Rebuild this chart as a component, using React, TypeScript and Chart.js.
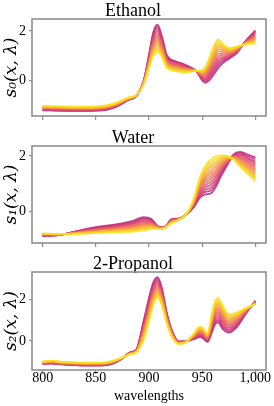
import { useEffect, useRef } from "react";
import { Chart, registerables } from "chart.js";

Chart.register(...registerables);

// ---------- data ----------
const xTicks = [800, 850, 900, 950, 1000];
const xRange = [790, 1010];
const yTicks = [0, 2];
const xTitle = "wavelengths";

const titles = ["Ethanol", "Water", "2-Propanol"];
const yLabels = ["s₀(x, λ)", "s₁(x, λ)", "s₂(x, λ)"];
const yRangeEthanol = [-1.43, 2.48];
const yRangeWater = [-1.13, 2.36];
const yRangePropanol = [-1.41, 3.35];

// Ethanol (magenta -> yellow)
const ethanolWl = [800, 820, 840, 860, 870, 880, 888, 895, 900, 904, 908, 912, 917, 925, 935, 945, 950, 953, 957, 961, 965, 970, 976, 983, 990, 1000];
const ethanol0 = [-1.20, -1.22, -1.22, -1.18, -1.05, -0.80, -0.62, 0.00, 1.05, 1.95, 2.25, 1.80, 1.00, 0.78, 0.62, 0.35, 0.00, -0.10, 0.02, 0.25, 0.50, 0.72, 0.90, 1.12, 1.55, 2.02];
const ethanol1 = [-1.19, -1.21, -1.21, -1.17, -1.04, -0.79, -0.62, -0.02, 1.01, 1.88, 2.17, 1.74, 0.97, 0.75, 0.60, 0.36, 0.04, -0.04, 0.11, 0.36, 0.60, 0.79, 0.94, 1.15, 1.55, 1.98];
const ethanol2 = [-1.17, -1.19, -1.20, -1.15, -1.02, -0.78, -0.61, -0.03, 0.97, 1.80, 2.08, 1.67, 0.93, 0.72, 0.58, 0.36, 0.08, 0.02, 0.20, 0.46, 0.70, 0.85, 0.97, 1.17, 1.54, 1.94];
const ethanol3 = [-1.16, -1.18, -1.18, -1.14, -1.01, -0.78, -0.61, -0.04, 0.92, 1.72, 1.98, 1.60, 0.88, 0.69, 0.55, 0.37, 0.11, 0.07, 0.27, 0.55, 0.79, 0.91, 1.00, 1.19, 1.53, 1.90];
const ethanol4 = [-1.14, -1.16, -1.16, -1.12, -0.99, -0.77, -0.61, -0.05, 0.87, 1.63, 1.88, 1.52, 0.83, 0.65, 0.52, 0.37, 0.14, 0.12, 0.33, 0.63, 0.88, 0.96, 1.03, 1.21, 1.52, 1.85];
const ethanol5 = [-1.13, -1.15, -1.15, -1.11, -0.98, -0.76, -0.61, -0.07, 0.83, 1.56, 1.79, 1.45, 0.79, 0.62, 0.50, 0.38, 0.18, 0.18, 0.41, 0.73, 0.98, 1.03, 1.07, 1.23, 1.51, 1.81];
const ethanol6 = [-1.11, -1.13, -1.14, -1.09, -0.97, -0.75, -0.60, -0.08, 0.78, 1.48, 1.70, 1.38, 0.75, 0.58, 0.48, 0.38, 0.21, 0.23, 0.49, 0.83, 1.08, 1.09, 1.10, 1.25, 1.50, 1.76];
const ethanol7 = [-1.10, -1.12, -1.13, -1.08, -0.96, -0.74, -0.60, -0.09, 0.73, 1.40, 1.61, 1.31, 0.71, 0.55, 0.46, 0.38, 0.25, 0.28, 0.57, 0.93, 1.18, 1.15, 1.14, 1.27, 1.49, 1.72];
const ethanol8 = [-1.08, -1.10, -1.11, -1.06, -0.94, -0.73, -0.59, -0.10, 0.68, 1.32, 1.52, 1.23, 0.67, 0.51, 0.43, 0.38, 0.28, 0.33, 0.64, 1.02, 1.27, 1.21, 1.17, 1.29, 1.48, 1.67];
const ethanol9 = [-1.07, -1.09, -1.10, -1.05, -0.93, -0.73, -0.59, -0.12, 0.64, 1.24, 1.43, 1.16, 0.63, 0.48, 0.41, 0.39, 0.32, 0.39, 0.72, 1.12, 1.37, 1.27, 1.20, 1.32, 1.48, 1.63];
const ethanol10 = [-1.05, -1.07, -1.08, -1.03, -0.91, -0.72, -0.59, -0.13, 0.59, 1.16, 1.33, 1.09, 0.58, 0.45, 0.38, 0.39, 0.35, 0.44, 0.80, 1.21, 1.46, 1.33, 1.23, 1.34, 1.47, 1.59];
const ethanol11 = [-1.04, -1.06, -1.07, -1.02, -0.90, -0.71, -0.59, -0.14, 0.55, 1.08, 1.24, 1.02, 0.54, 0.42, 0.36, 0.40, 0.39, 0.50, 0.88, 1.31, 1.56, 1.39, 1.27, 1.36, 1.46, 1.55];
const ethanol12 = [-1.02, -1.04, -1.05, -1.00, -0.88, -0.70, -0.58, -0.15, 0.50, 1.00, 1.15, 0.95, 0.50, 0.38, 0.33, 0.40, 0.42, 0.55, 0.95, 1.40, 1.65, 1.45, 1.30, 1.38, 1.45, 1.50];

// Water
const waterWl = [800, 815, 830, 850, 870, 885, 895, 902, 910, 915, 921, 928, 935, 942, 948, 953, 958, 963, 968, 974, 980, 986, 993, 1000];
const water0 = [-0.88, -0.85, -0.72, -0.56, -0.45, -0.33, -0.20, -0.26, -0.55, -0.55, -0.27, -0.25, -0.10, 0.15, 0.50, 0.62, 0.65, 0.90, 1.30, 1.70, 2.08, 2.15, 2.05, 1.95];
const water1 = [-0.87, -0.85, -0.73, -0.58, -0.48, -0.37, -0.24, -0.29, -0.56, -0.56, -0.29, -0.26, -0.10, 0.18, 0.57, 0.71, 0.76, 0.99, 1.36, 1.73, 2.06, 2.11, 1.99, 1.88];
const water2 = [-0.86, -0.84, -0.73, -0.60, -0.50, -0.40, -0.28, -0.32, -0.56, -0.56, -0.30, -0.26, -0.10, 0.20, 0.63, 0.79, 0.86, 1.08, 1.42, 1.75, 2.04, 2.06, 1.93, 1.81];
const water3 = [-0.86, -0.84, -0.74, -0.62, -0.53, -0.43, -0.32, -0.35, -0.57, -0.56, -0.31, -0.27, -0.10, 0.23, 0.69, 0.88, 0.96, 1.17, 1.48, 1.78, 2.02, 2.02, 1.88, 1.74];
const water4 = [-0.85, -0.83, -0.75, -0.63, -0.55, -0.46, -0.36, -0.38, -0.57, -0.56, -0.32, -0.27, -0.09, 0.25, 0.75, 0.96, 1.06, 1.26, 1.54, 1.80, 2.00, 1.97, 1.82, 1.67];
const water5 = [-0.84, -0.83, -0.76, -0.65, -0.58, -0.50, -0.40, -0.41, -0.58, -0.57, -0.34, -0.28, -0.10, 0.28, 0.82, 1.05, 1.17, 1.35, 1.60, 1.83, 1.99, 1.93, 1.76, 1.60];
const water6 = [-0.83, -0.83, -0.76, -0.67, -0.60, -0.53, -0.44, -0.44, -0.59, -0.57, -0.35, -0.28, -0.10, 0.30, 0.88, 1.14, 1.27, 1.44, 1.66, 1.85, 1.97, 1.88, 1.70, 1.53];
const water7 = [-0.82, -0.83, -0.77, -0.69, -0.62, -0.56, -0.48, -0.47, -0.60, -0.57, -0.36, -0.28, -0.11, 0.33, 0.94, 1.23, 1.37, 1.53, 1.72, 1.88, 1.95, 1.83, 1.64, 1.46];
const water8 = [-0.81, -0.82, -0.77, -0.71, -0.64, -0.59, -0.52, -0.50, -0.60, -0.57, -0.37, -0.28, -0.11, 0.35, 1.00, 1.31, 1.47, 1.62, 1.78, 1.90, 1.93, 1.78, 1.58, 1.38];
const water9 = [-0.81, -0.82, -0.78, -0.73, -0.67, -0.63, -0.56, -0.53, -0.61, -0.58, -0.39, -0.29, -0.11, 0.38, 1.07, 1.40, 1.58, 1.71, 1.84, 1.93, 1.91, 1.74, 1.53, 1.31];
const water10 = [-0.80, -0.81, -0.79, -0.74, -0.69, -0.66, -0.60, -0.56, -0.61, -0.58, -0.40, -0.29, -0.10, 0.40, 1.13, 1.48, 1.68, 1.80, 1.90, 1.95, 1.89, 1.69, 1.47, 1.24];
const water11 = [-0.79, -0.81, -0.80, -0.76, -0.72, -0.69, -0.64, -0.59, -0.62, -0.58, -0.41, -0.30, -0.10, 0.43, 1.19, 1.57, 1.78, 1.89, 1.96, 1.98, 1.87, 1.65, 1.41, 1.17];
const water12 = [-0.78, -0.80, -0.80, -0.78, -0.74, -0.72, -0.68, -0.62, -0.62, -0.58, -0.42, -0.30, -0.10, 0.45, 1.25, 1.65, 1.88, 1.98, 2.02, 2.00, 1.85, 1.60, 1.35, 1.10];

// 2-Propanol
const propanolWl = [800, 808, 820, 840, 855, 865, 875, 882, 888, 895, 900, 904, 908, 912, 917, 922, 928, 935, 942, 948, 951, 955, 959, 962, 965, 969, 975, 983, 992, 1000];
const propanol0 = [-1.12, -1.10, -1.15, -1.20, -1.20, -1.12, -0.85, -0.55, -0.42, 1.00, 2.10, 2.85, 3.10, 2.60, 1.30, 0.45, -0.02, 0.00, 0.08, 0.18, 0.12, -0.05, 0.40, 0.80, 0.90, 0.60, 0.40, 0.70, 1.40, 1.95];
const propanol1 = [-1.11, -1.09, -1.14, -1.19, -1.19, -1.11, -0.85, -0.56, -0.43, 0.92, 2.01, 2.76, 3.02, 2.53, 1.26, 0.43, -0.03, -0.01, 0.11, 0.23, 0.16, -0.02, 0.48, 0.89, 1.00, 0.70, 0.48, 0.76, 1.42, 1.94];
const propanol2 = [-1.10, -1.08, -1.13, -1.18, -1.18, -1.10, -0.84, -0.57, -0.44, 0.84, 1.91, 2.67, 2.93, 2.46, 1.22, 0.40, -0.04, -0.01, 0.13, 0.27, 0.20, 0.02, 0.55, 0.98, 1.10, 0.79, 0.55, 0.82, 1.44, 1.92];
const propanol3 = [-1.09, -1.07, -1.12, -1.17, -1.17, -1.09, -0.84, -0.58, -0.45, 0.76, 1.82, 2.58, 2.85, 2.39, 1.18, 0.38, -0.05, -0.02, 0.15, 0.31, 0.25, 0.05, 0.63, 1.08, 1.20, 0.89, 0.63, 0.88, 1.46, 1.91];
const propanol4 = [-1.08, -1.05, -1.11, -1.15, -1.15, -1.07, -0.83, -0.58, -0.46, 0.68, 1.72, 2.48, 2.77, 2.32, 1.13, 0.35, -0.06, -0.02, 0.17, 0.35, 0.29, 0.08, 0.70, 1.17, 1.30, 0.98, 0.70, 0.93, 1.47, 1.89];
const propanol5 = [-1.07, -1.04, -1.10, -1.14, -1.14, -1.06, -0.83, -0.59, -0.48, 0.61, 1.63, 2.39, 2.69, 2.25, 1.09, 0.33, -0.08, -0.03, 0.20, 0.40, 0.33, 0.12, 0.78, 1.26, 1.40, 1.08, 0.78, 0.99, 1.49, 1.88];
const propanol6 = [-1.06, -1.03, -1.09, -1.13, -1.13, -1.05, -0.83, -0.60, -0.49, 0.53, 1.53, 2.30, 2.60, 2.18, 1.05, 0.30, -0.09, -0.03, 0.22, 0.44, 0.37, 0.15, 0.85, 1.35, 1.50, 1.18, 0.85, 1.05, 1.51, 1.87];
const propanol7 = [-1.05, -1.02, -1.08, -1.12, -1.12, -1.04, -0.83, -0.61, -0.50, 0.45, 1.43, 2.21, 2.52, 2.11, 1.01, 0.28, -0.10, -0.03, 0.24, 0.49, 0.41, 0.19, 0.93, 1.44, 1.60, 1.28, 0.93, 1.11, 1.53, 1.86];
const propanol8 = [-1.04, -1.00, -1.06, -1.10, -1.10, -1.03, -0.82, -0.62, -0.51, 0.37, 1.33, 2.12, 2.43, 2.03, 0.97, 0.25, -0.11, -0.03, 0.26, 0.53, 0.45, 0.22, 1.00, 1.53, 1.70, 1.37, 1.00, 1.17, 1.55, 1.84];
const propanol9 = [-1.03, -0.99, -1.05, -1.09, -1.09, -1.02, -0.82, -0.63, -0.52, 0.29, 1.24, 2.03, 2.35, 1.96, 0.93, 0.23, -0.12, -0.04, 0.29, 0.57, 0.50, 0.25, 1.08, 1.63, 1.80, 1.47, 1.08, 1.23, 1.57, 1.83];
const propanol10 = [-1.02, -0.98, -1.04, -1.08, -1.08, -1.00, -0.81, -0.63, -0.53, 0.21, 1.14, 1.93, 2.27, 1.89, 0.88, 0.20, -0.13, -0.04, 0.31, 0.61, 0.54, 0.28, 1.15, 1.72, 1.90, 1.56, 1.15, 1.28, 1.58, 1.81];
const propanol11 = [-1.01, -0.97, -1.03, -1.07, -1.07, -0.99, -0.81, -0.64, -0.54, 0.13, 1.05, 1.84, 2.19, 1.82, 0.84, 0.18, -0.14, -0.05, 0.33, 0.66, 0.58, 0.32, 1.23, 1.81, 2.00, 1.66, 1.23, 1.34, 1.60, 1.80];
const propanol12 = [-1.00, -0.95, -1.02, -1.05, -1.05, -0.98, -0.80, -0.65, -0.55, 0.05, 0.95, 1.75, 2.10, 1.75, 0.80, 0.15, -0.15, -0.05, 0.35, 0.70, 0.62, 0.35, 1.30, 1.90, 2.10, 1.75, 1.30, 1.40, 1.62, 1.78];

// ---------- style ----------
const lineColors = [
  "rgba(184, 36, 126, 0.85)",
  "rgba(194, 46, 124, 0.85)",
  "rgba(204, 56, 122, 0.85)",
  "rgba(213, 69, 116, 0.85)",
  "rgba(222, 82, 110, 0.85)",
  "rgba(229, 97, 100, 0.85)",
  "rgba(236, 112, 90, 0.85)",
  "rgba(241, 130, 77, 0.85)",
  "rgba(245, 148, 64, 0.85)",
  "rgba(247, 169, 52, 0.85)",
  "rgba(249, 190, 40, 0.85)",
  "rgba(250, 208, 33, 0.85)",
  "rgba(250, 226, 26, 0.9)",
];
const FONT = "'Liberation Serif', 'Times New Roman', serif";
const MATH_FONT = "'DejaVu Serif', serif";
const FRAME = "#8f8f8f";

const framePlugin = {
  id: "frame",
  afterDatasetsDraw(chart: any) {
    const { ctx, chartArea: a } = chart;
    ctx.save();
    ctx.strokeStyle = FRAME;
    ctx.lineWidth = 1.6;
    ctx.strokeRect(a.left, a.top, a.right - a.left, a.bottom - a.top);
    ctx.restore();
  },
};

type PanelProps = {
  wl: number[];
  series: number[][];
  title: string;
  ylabel: string;
  yr: number[];
  showX: boolean;
  top: number;
  height: number;
  xAxisH: number;
};

function Panel({ wl, series, title, ylabel, yr, showX, top, height, xAxisH }: PanelProps) {
  const ref = useRef<HTMLCanvasElement | null>(null);
  useEffect(() => {
    if (!ref.current) return;
    const n = series.length;
    const chart = new Chart(ref.current, {
      type: "line",
      data: {
        datasets: series.map((s, i) => ({
          data: s.map((y, j) => ({ x: wl[j], y })),
          borderColor: lineColors[i],
          borderWidth: 1.7,
          pointRadius: 0,
          fill: false,
          cubicInterpolationMode: "monotone" as const,
          order: n - 1 - i,
        })),
      },
      options: {
        responsive: false,
        animation: false,
        devicePixelRatio: 1,
        layout: { padding: { left: 0, right: 8, top: 0, bottom: 0 } },
        plugins: {
          legend: { display: false },
          tooltip: { enabled: false },
          title: {
            display: true,
            text: title,
            color: "#000",
            font: { family: FONT, size: 18, weight: "normal", lineHeight: 1 },
            padding: { top: 2, bottom: -1 },
          },
        },
        scales: {
          x: {
            type: "linear",
            min: xRange[0],
            max: xRange[1],
            afterBuildTicks: (ax: any) => {
              ax.ticks = xTicks.map((v) => ({ value: v }));
            },
            afterFit: (s: any) => {
              s.height = xAxisH;
            },
            grid: { display: true, drawOnChartArea: false, drawTicks: true, tickLength: 4, color: FRAME, lineWidth: 1.2 },
            border: { display: false },
            ticks: {
              display: showX,
              color: "#000",
              font: { family: FONT, size: 14 },
              padding: -4,
              maxRotation: 0,
              autoSkip: false,
            },
            title: {
              display: showX,
              text: xTitle,
              color: "#000",
              font: { family: FONT, size: 14 },
              padding: { top: 0, bottom: 1.5 },
            },
          },
          y: {
            type: "linear",
            min: yr[0],
            max: yr[1],
            afterBuildTicks: (ax: any) => {
              ax.ticks = yTicks.map((v) => ({ value: v }));
            },
            afterFit: (s: any) => {
              s.width = 32;
            },
            grid: { display: true, drawOnChartArea: false, drawTicks: true, tickLength: 3, color: FRAME, lineWidth: 1.2 },
            border: { display: false },
            ticks: { color: "#000", font: { family: FONT, size: 14 }, padding: 3 },
            title: {
              display: true,
              text: ylabel,
              color: "#000",
              font: { family: MATH_FONT, size: 17, style: "italic", lineHeight: 1.1 },
              padding: { top: 2, bottom: 0 },
            },
          },
        },
      },
      plugins: [framePlugin],
    } as any);
    return () => chart.destroy();
  }, []);
  return (
    <canvas
      ref={ref}
      width={274}
      height={height}
      style={{ position: "absolute", left: 0, top, width: 274, height }}
    />
  );
}

export default function App() {
  return (
    <div style={{ position: "fixed", left: 0, top: 0, width: 274, height: 406, background: "#fff" }}>
      <Panel
        wl={ethanolWl}
        series={[ethanol0, ethanol1, ethanol2, ethanol3, ethanol4, ethanol5, ethanol6, ethanol7, ethanol8, ethanol9, ethanol10, ethanol11, ethanol12]}
        title={titles[0]}
        ylabel={yLabels[0]}
        yr={yRangeEthanol}
        showX={false}
        top={0}
        height={130}
        xAxisH={14}
      />
      <Panel
        wl={waterWl}
        series={[water0, water1, water2, water3, water4, water5, water6, water7, water8, water9, water10, water11, water12]}
        title={titles[1]}
        ylabel={yLabels[1]}
        yr={yRangeWater}
        showX={false}
        top={127}
        height={130}
        xAxisH={14}
      />
      <Panel
        wl={propanolWl}
        series={[propanol0, propanol1, propanol2, propanol3, propanol4, propanol5, propanol6, propanol7, propanol8, propanol9, propanol10, propanol11, propanol12]}
        title={titles[2]}
        ylabel={yLabels[2]}
        yr={yRangePropanol}
        showX={true}
        top={253}
        height={153}
        xAxisH={36}
      />
    </div>
  );
}
